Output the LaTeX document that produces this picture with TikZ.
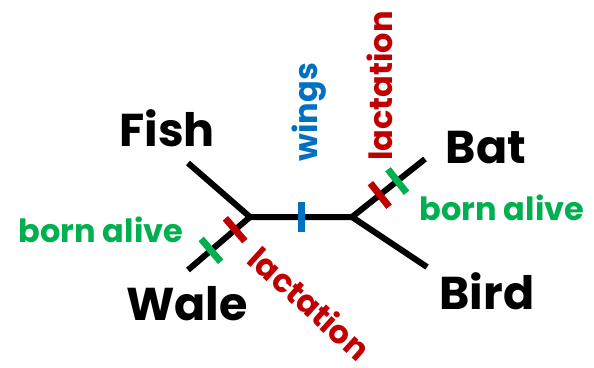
\documentclass[tikz,border=0pt]{standalone}
\usepackage{fontspec}
\setmainfont{Poppins}
\usetikzlibrary{positioning}
\definecolor{lacred}{HTML}{C00000}
\definecolor{alivegreen}{HTML}{00B050}
\definecolor{wingblue}{HTML}{0070C0}
\tikzset{branch/.style = {line width=6pt, black}}
\tikzset{taxon/.style = {inner sep=0pt, font=\fontsize{46}{46}\selectfont\bfseries}}
\tikzset{trait/.style = {inner sep=0pt, font=\fontsize{32}{32}\selectfont\bfseries}}
\tikzset{traitmark/.style = {sloped, rectangle, inner sep=0pt, minimum width=7pt, minimum height=30pt}}

\begin{document}
\begin{tikzpicture}[x=1pt, y=-1pt]
  \useasboundingbox (0,0) rectangle (594,367);

  % tree
  \coordinate (jl) at (250,217);
  \coordinate (jr) at (352,217);
  \coordinate (fishend) at (188,163);
  \coordinate (waleend) at (188,270);
  \coordinate (batend) at (425,159);
  \coordinate (birdend) at (427,267);

  \draw[branch] (fishend) -- (jl) -- (jr) -- (batend);
  \draw[branch] (waleend) -- (jl);
  \draw[branch] (jr) -- (birdend);

  % traits on the branches
  \path (jl) -- (waleend)
    node[traitmark, fill=lacred, pos=0.24] (laclmark) {}
    node[traitmark, fill=alivegreen, pos=0.63] (alivelmark) {};
  \path (jl) -- (jr) node[traitmark, fill=wingblue, pos=0.5] (wingmark) {};
  \path (jr) -- (batend)
    node[traitmark, fill=lacred, pos=0.38] (lacrmark) {}
    node[traitmark, fill=alivegreen, pos=0.62] (alivermark) {};

  % taxa
  \node[taxon] (fish) at (167,128) {Fish};
  \node[taxon] (wale) at (187,304) {Wale};
  \node[taxon] (bat) at (486,148) {Bat};
  \node[taxon] (bird) at (487,291) {Bird};

  % trait labels
  \node[trait, alivegreen] (alivel) at (101,230) {born alive};
  \node[trait, alivegreen] (aliver) at (502,208) {born alive};
  \node[trait, wingblue, rotate=90] (wings) at (309,112) {wings};
  \node[trait, lacred, rotate=90] (lacr) at (380,86) {lactation};
  \node[trait, lacred, rotate=-42] (lacl) at (310,303) {lactation};
\end{tikzpicture}
\end{document}
